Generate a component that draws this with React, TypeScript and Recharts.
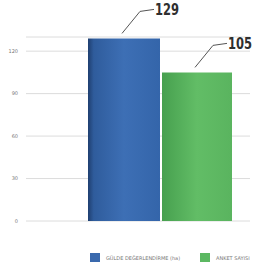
import { BarChart, Bar, XAxis, YAxis, CartesianGrid, Legend } from "recharts"

const CATEGORIES = ["2023"]
const SERIES_NAMES = ["GÜLDE DEĞERLENDİRME (ha)", "ANKET SAYISI"]
const AREA_VALUES = [129]
const SURVEY_VALUES = [105]
const Y_TICKS = [0, 30, 60, 90, 120]

const data = CATEGORIES.map((c, i) => ({
  name: c,
  area: AREA_VALUES[i],
  survey: SURVEY_VALUES[i],
}))

const LABEL_FONT = "'DejaVu Sans Condensed', 'DejaVu Sans', sans-serif"

// leader line from bar top to the value label, like the callouts in the print
function Callout(props: any) {
  const { x, y, width, value } = props
  const cx = x + width / 2 - 2
  const y0 = y - 5
  const x1 = cx + 18
  const y1 = y0 - 22
  const x2 = x1 + 14
  return (
    <g>
      <polyline
        points={`${cx},${y0} ${x1},${y1} ${x2},${y1 - 2}`}
        fill="none"
        stroke="#555"
        strokeWidth={1}
      />
      <text
        x={x2 + 1}
        y={y1 + 4}
        fill="#2f2f2f"
        fontSize={16}
        fontWeight="bold"
        fontFamily={LABEL_FONT}
        textLength={24}
        lengthAdjust="spacingAndGlyphs"
      >
        {value}
      </text>
    </g>
  )
}

function LegendBox() {
  const colors = ["#3a69ad", "#5cb862"]
  const widths = [110, 66]
  return (
    <div style={{ display: "flex", paddingLeft: 90 }}>
      {SERIES_NAMES.map((n, i) => (
        <div key={n} style={{ display: "flex", alignItems: "center", gap: 6, width: widths[i] }}>
          <span style={{ width: 10, height: 9, background: colors[i], display: "inline-block", flexShrink: 0 }} />
          <span style={{ fontSize: 5, color: "#777", fontFamily: "'DejaVu Sans', sans-serif", whiteSpace: "nowrap" }}>{n}</span>
        </div>
      ))}
    </div>
  )
}

export default function App() {
  return (
    <div style={{ position: "absolute", left: 0, top: 0, width: 266, height: 269, background: "#fff" }}>
      <BarChart
        width={266}
        height={269}
        data={data}
        margin={{ top: 37, right: 16, left: 0, bottom: 28 }}
        barGap={2}
      >
        <defs>
          <linearGradient id="gradBlue" x1="0" y1="0" x2="1" y2="0">
            <stop offset="0%" stopColor="#1f3f70" />
            <stop offset="8%" stopColor="#2f5c9c" />
            <stop offset="50%" stopColor="#3d6fb5" />
            <stop offset="100%" stopColor="#3465aa" />
          </linearGradient>
          <linearGradient id="gradGreen" x1="0" y1="0" x2="1" y2="0">
            <stop offset="0%" stopColor="#47a04f" />
            <stop offset="50%" stopColor="#62bd66" />
            <stop offset="100%" stopColor="#5ab45f" />
          </linearGradient>
        </defs>
        <CartesianGrid vertical={false} stroke="#dcdcdc" />
        <XAxis dataKey="name" hide padding={{ left: 44, right: 0 }} />
        <YAxis
          width={26}
          domain={[0, 130]}
          ticks={Y_TICKS}
          axisLine={false}
          tickLine={false}
          tick={{ fontSize: 5, fill: "#777", fontFamily: "'DejaVu Sans', sans-serif" }}
        />
        <Legend
          verticalAlign="bottom"
          height={20}
          content={() => <LegendBox />}
          wrapperStyle={{ top: 253, bottom: "auto", left: 0, width: 266 }}
        />
        <Bar
          dataKey="area"
          name={SERIES_NAMES[0]}
          fill="url(#gradBlue)"
          barSize={72}
          isAnimationActive={false}
          label={<Callout />}
        />
        <Bar
          dataKey="survey"
          name={SERIES_NAMES[1]}
          fill="url(#gradGreen)"
          barSize={70}
          isAnimationActive={false}
          label={<Callout />}
        />
      </BarChart>
    </div>
  )
}
